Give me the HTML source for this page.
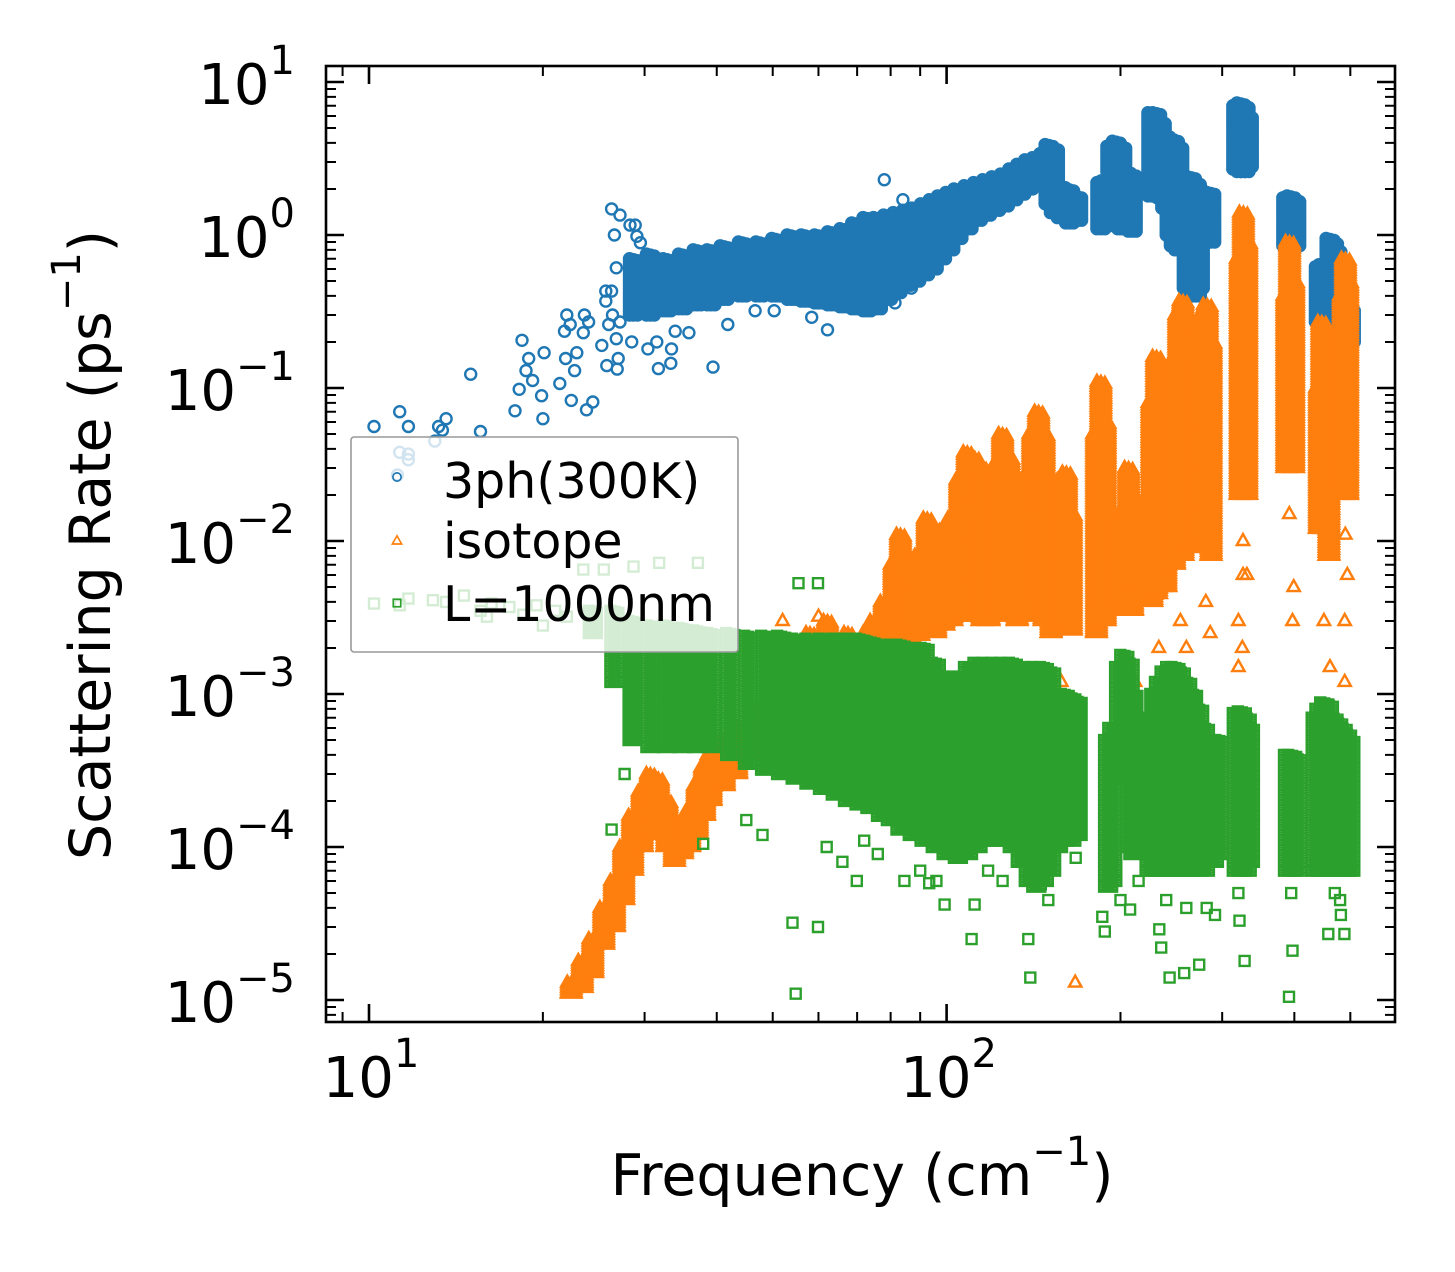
<!DOCTYPE html>
<html><head><meta charset="utf-8"><style>
html,body{margin:0;padding:0;background:#fff;}
svg{display:block;font-family:"DejaVu Sans","Liberation Sans",sans-serif;}
</style></head><body>
<svg id="chart" width="1455" height="1272" viewBox="0 0 1455 1272" xmlns="http://www.w3.org/2000/svg">
<defs><clipPath id="plotclip"><rect x="326" y="66" width="1069" height="956"/></clipPath></defs>
<rect x="0" y="0" width="1455" height="1272" fill="#fff"/>
<g id="marks" clip-path="url(#plotclip)"></g>
<g id="legend"></g>
<g id="axes"></g>
<text x="862" y="1195" font-size="57" text-anchor="middle">Frequency (cm<tspan font-size="40" dy="-30">−1</tspan><tspan dy="30">)</tspan></text>
<text transform="translate(110,545) rotate(-90)" font-size="57" text-anchor="middle">Scattering Rate (ps<tspan font-size="40" dy="-30">−1</tspan><tspan dy="30">)</tspan></text>
</svg>
<script>
// ---- data: [frequency cm^-1, low rate, high rate] for dense columns ----
const blueBands = [[28.7,.3,.7],[30.7,.3,.75],[32.8,.32,.7],[34.9,.33,.75],[37,.35,.8],[39.1,.35,.8],[41.2,.38,.85],[44.3,.4,.9],[47.5,.4,.9],[50.6,.4,.95],[53.8,.38,1],[56.9,.37,1],[60,.36,1],[63.2,.35,1.05],[66.4,.34,1.1],[69.6,.33,1.2],[72.8,.32,1.3],[75.9,.33,1.3],[79,.38,1.35],[82.1,.42,1.4],[85.3,.47,1.45],[88.4,.5,1.5],[91.6,.55,1.6],[94.8,.6,1.7],[98,.7,1.8],[101.3,.8,1.9],[104.6,.95,2],[108.9,1.1,2.1],[113.1,1.25,2.2],[117.3,1.35,2.3],[121.6,1.45,2.4],[125.9,1.55,2.5],[130.2,1.7,2.7],[134.4,1.85,2.9],[138.8,2,3.1],[143,2.1,3.2],[147.3,2.2,3.4],[150.5,1.6,3.9],[153.7,1.4,3.7],[158,1.3,2.1],[163.3,1.2,2],[168.6,1.25,1.8],[185,1.1,2.2],[188.2,1.15,2.26],[192.5,2.6,3.8],[196.7,2.5,4.1],[201,1.1,3.8],[205.3,1.1,2.6],[209.6,1.06,2.5],[226.7,1.8,6.3],[231,1.8,6.3],[235.3,1.75,5.5],[239.6,1.5,4.5],[243.8,1,4.3],[248,.85,4.2],[252.3,.8,3.8],[261,.45,2.4],[265.3,.4,2.4],[270.6,.4,2.2],[273.8,.45,2],[280.2,.95,1.9],[286.6,.9,1.9],[318,2.7,7],[323.3,2.6,7.3],[328.6,2.6,7],[332.9,2.8,6],[388.2,.85,1.75],[392.5,.4,1.0],[394.7,.82,1.8],[402.2,.85,1.7],[442,.27,.62],[448.3,.25,.64],[454.8,.26,.6],[461.2,.3,.95],[467.6,.32,.9],[474,.34,.8],[486,.2,.34],[492.5,.19,.35],[500,.2,.33]];
const bluePoints = [[10.2,.056],[11.3,.07],[11.7,.056],[13.2,.056],[13.6,.063],[13.4,.053],[15,.123],[15.6,.052],[13,.045],[11.3,.038],[11.7,.037],[11.7,.034],[11.2,.027],[18.4,.205],[17.9,.071],[18.2,.098],[18.9,.156],[18.7,.13],[19.2,.112],[19.9,.089],[20,.063],[20.1,.17],[22,.3],[22.3,.26],[21.8,.235],[23.6,.3],[24,.27],[23.5,.23],[22.9,.17],[21.9,.156],[22.7,.13],[21.4,.107],[22.4,.083],[24.4,.081],[23.8,.072],[25.3,.19],[25.8,.14],[27,.156],[26.9,.133],[25.7,.43],[26.3,.43],[25.7,.37],[26.3,1.48],[26.6,1.0],[27.2,1.35],[28.3,1.16],[28.9,1.16],[29.1,.98],[29.5,.89],[26.8,.61],[26.4,.3],[26,.26],[27.2,.27],[26.8,.21],[28.5,.2],[30.4,.18],[31.7,.134],[33.3,.145],[33.4,.18],[31.5,.2],[33.9,.235],[35.8,.23],[39.4,.137],[41.8,.26],[46.6,.32],[50.3,.32],[58.4,.29],[62.2,.24],[81.4,.36],[86.9,.45],[84,1.7],[78,2.3],[106,1.0],[160,1.3]];
const orangeBands = [[22.4,1.1e-5,1.3e-5],[23.4,1.2e-5,1.8e-5],[24.4,1.5e-5,2.5e-5],[25.5,2.3e-5,4e-5],[26.6,3e-5,6e-5],[27.6,4.5e-5,1e-4],[28.6,7e-5,1.6e-4],[29.7,1e-4,2.3e-4],[30.7,1.3e-4,3e-4],[31.7,1.2e-4,2.8e-4],[32.8,1e-4,2e-4],[33.8,8e-5,1.4e-4],[34.9,9e-5,1.3e-4],[35.9,1e-4,1.7e-4],[37,1.2e-4,2.5e-4],[38.1,1.6e-4,3.3e-4],[39.1,2e-4,4e-4],[41.2,2.5e-4,5e-4],[43.3,3e-4,6e-4],[46.4,4e-4,8e-4],[49.6,5e-4,1.2e-3],[53.8,6e-4,1.8e-3],[58,7e-4,2.5e-3],[62.2,8e-4,3e-3],[67.5,9e-4,2.5e-3],[72.8,1e-3,2.5e-3],[74.9,1.6e-3,3e-3],[78,1.8e-3,4e-3],[81.1,2e-3,7e-3],[83.2,2.3e-3,1.1e-2],[86.3,2.2e-3,7e-3],[89.5,2.4e-3,8e-3],[92.6,2.6e-3,1.4e-2],[95.7,2.5e-3,1.2e-2],[98.9,2.8e-3,9e-3],[102.1,3e-3,1.4e-2],[105.4,3.2e-3,2.5e-2],[108.6,3.4e-3,3.8e-2],[111.9,3.2e-3,3.5e-2],[115.2,3e-3,3e-2],[118.4,3e-3,2e-2],[121.6,3.5e-3,3e-2],[125,3.5e-3,5e-2],[128.2,3.2e-3,3.5e-2],[132.5,3e-3,2e-2],[136.8,3.2e-3,2.5e-2],[141,3.5e-3,5e-2],[144.3,3.5e-3,7e-2],[147.5,3e-3,5e-2],[151.7,2.5e-3,2e-2],[158,3e-3,2.5e-2],[161.2,2.8e-3,2.8e-2],[164.4,2.6e-3,1.5e-2],[181.8,2.5e-3,5e-2],[185,3e-3,1.1e-1],[188.2,3e-3,6e-2],[201.3,3.5e-3,1.5e-2],[206.6,3.5e-3,3e-2],[209.8,3.5e-3,2e-2],[226.7,4e-3,8e-2],[231,4.5e-3,1.6e-1],[235.3,5e-3,1e-1],[239.6,5e-3,5e-2],[248,7e-3,1.5e-1],[252.3,8e-3,3e-1],[256.6,8e-3,3.7e-1],[261,1e-2,2e-1],[274,9e-3,1.5e-1],[278.3,1e-2,3e-1],[282.6,1e-2,3.5e-1],[287,8e-3,2e-1],[322.3,2e-2,7e-1],[326.5,2.5e-2,1.4],[330.8,2e-2,9e-1],[388.2,3e-2,4e-1],[392.5,3.5e-2,9e-1],[399,3e-2,5e-1],[442,1.2e-2,1e-1],[446.2,1.5e-2,2.7e-1],[450.5,1.2e-2,2e-1],[459,8e-3,8e-2],[486,2e-2,4e-1],[490.5,2.5e-2,7e-1],[494.7,2e-2,5e-1]];
const orangePoints = [[286,2.5e-3],[281,4e-3],[254,3e-3],[260,2e-3],[320,3e-3],[325,2e-3],[320,1.5e-3],[331,6e-3],[397,3e-3],[399,5e-3],[450,3e-3],[461,1.5e-3],[489,1.2e-3],[489,3e-3],[167,1.3e-5],[212,1.2e-3],[201,1.5e-3],[233,2e-3],[244,1e-3],[158,1.2e-3],[208,5.5e-3],[52,3e-3],[60,3.2e-3],[326,1e-2],[326,6e-3],[392,1.5e-2],[490,1.1e-2],[494,6e-3]];
const greenBands = [[24.4,2.5e-3,3.5e-3],[26.6,1.2e-3,3.5e-3],[28.6,5e-4,3e-3],[30.7,4.5e-4,2.8e-3],[32.8,4.5e-4,2.8e-3],[34.9,4.5e-4,2.7e-3],[37,4.5e-4,2.6e-3],[39.1,4.5e-4,2.5e-3],[42.2,4e-4,2.5e-3],[45.3,3.5e-4,2.4e-3],[48.5,3.2e-4,2.4e-3],[51.7,3e-4,2.4e-3],[54.8,2.8e-4,2.3e-3],[57.9,2.6e-4,2.3e-3],[61.1,2.4e-4,2.3e-3],[64.3,2.2e-4,2.3e-3],[67.5,2e-4,2.3e-3],[70.7,1.9e-4,2.3e-3],[73.8,1.8e-4,2.2e-3],[77,1.6e-4,2.1e-3],[80.1,1.5e-4,2.1e-3],[83.2,1.3e-4,2.1e-3],[87.4,1.2e-4,2e-3],[91.6,1.1e-4,2e-3],[95.8,1e-4,1.6e-3],[100,9e-5,1.3e-3],[104.6,8.5e-5,1.3e-3],[108.9,9e-5,1.5e-3],[113.1,1e-4,1.6e-3],[117.3,1.1e-4,1.6e-3],[121.6,1.1e-4,1.6e-3],[125.9,1.1e-4,1.6e-3],[130.2,1e-4,1.6e-3],[134.4,8e-5,1.5e-3],[138.8,6e-5,1.5e-3],[143,5.5e-5,1.5e-3],[147.3,6e-5,1.5e-3],[151.7,7e-5,1.4e-3],[155.9,1e-4,1e-3],[160.1,1.1e-4,1e-3],[164.4,1.1e-4,9.5e-4],[168.6,1.2e-4,9e-4],[190.4,5.5e-5,5e-4],[193.6,6e-5,6e-4],[198.9,3e-4,1.5e-3],[203.1,2.8e-4,1.8e-3],[207.4,1e-4,1.6e-3],[210.6,9e-5,1e-3],[224.6,7e-5,7e-4],[228.9,7e-5,1e-3],[233.2,7e-5,1.2e-3],[238.5,7e-5,1.4e-3],[243.8,7e-5,1.5e-3],[249,7e-5,1.5e-3],[254.4,7e-5,1.4e-3],[260.8,7e-5,1.2e-3],[267.1,7e-5,1e-3],[273.6,7e-5,8e-4],[280,7e-5,6e-4],[290.3,8e-5,5e-4],[296.6,9e-5,5e-4],[318,7e-5,7.5e-4],[324.4,7e-5,7.7e-4],[330.8,7e-5,7e-4],[335,8e-5,6e-4],[390,7e-5,4e-4],[396.5,7e-5,4e-4],[405,7e-5,3.8e-4],[435.5,7e-5,7e-4],[442,7e-5,8e-4],[450.5,7e-5,8.8e-4],[459,7e-5,8.5e-4],[467.6,7e-5,7e-4],[476.3,7e-5,6.5e-4],[484.9,7e-5,6e-4],[493.5,7e-5,5.5e-4],[500,7e-5,5e-4]];
const greenPoints = [[10.2,3.9e-3],[11.3,3.8e-3],[11.7,4.2e-3],[12.9,4.1e-3],[14.6,4.4e-3],[16.3,3.9e-3],[17.5,3.7e-3],[19.5,3.8e-3],[13.6,4e-3],[15.6,3.5e-3],[18.5,3.3e-3],[21,3.5e-3],[22,3.2e-3],[20,2.8e-3],[16,3.2e-3],[23.5,6.5e-3],[25.5,6.5e-3],[28.7,6.8e-3],[31.8,7.2e-3],[37.1,7.2e-3],[55.4,5.3e-3],[59.9,5.3e-3],[26.3,1.3e-4],[27.7,3e-4],[37.9,1.05e-4],[54.1,3.2e-5],[59.9,3e-5],[54.8,1.1e-5],[69.9,6e-5],[84.5,6e-5],[93.3,5.8e-5],[99.2,4.2e-5],[110.5,2.5e-5],[111.8,4.2e-5],[138.5,2.5e-5],[167.3,8.5e-5],[139.6,1.4e-5],[145.6,5.7e-5],[187.9,2.8e-5],[207.8,3.9e-5],[233.5,2.9e-5],[235.3,2.2e-5],[243.3,1.4e-5],[257.8,1.5e-5],[273.7,1.7e-5],[291.5,3.6e-5],[321.5,3.3e-5],[328,1.8e-5],[397,2.1e-5],[391.5,1.05e-5],[458,2.7e-5],[481.6,3.6e-5],[488.3,2.7e-5],[45,1.5e-4],[48,1.2e-4],[62,1e-4],[66,8e-5],[72,1.1e-4],[76,9e-5],[90,7e-5],[96,6e-5],[118,7e-5],[125,6e-5],[150,4.5e-5],[186,3.5e-5],[200,4.5e-5],[215,6e-5],[240,4.5e-5],[260,4e-5],[282,4e-5],[320,5e-5],[395,5e-5],[470,5e-5],[480,4.5e-5]];
const xTickValues = [10, 100];
const xTickExps = ["1", "2"];
const yTickExps = [1, 0, -1, -2, -3, -4, -5];
const legendLabels = ["3ph(300K)", "isotope", "L=1000nm"];

const NS = "http://www.w3.org/2000/svg";
const L = 326, R = 1395, T = 66, B = 1022;
function X(f){ return 369 + 577.6 * (Math.log10(f) - 1); }
function Y(v){ return 235 - 153 * Math.log10(v); }
function mk(tag, attrs, parent){ const e = document.createElementNS(NS, tag); for (const k in attrs) e.setAttribute(k, attrs[k]); parent.appendChild(e); return e; }

function circ(x,y){ return `M${(x-5.5).toFixed(1)},${y.toFixed(1)}a5.5,5.5 0 1,0 11,0a5.5,5.5 0 1,0 -11,0`; }
function tri(x,y){ return `M${x.toFixed(1)},${(y-7).toFixed(1)}l6.2,11h-12.4z`; }
function sq(x,y){ return `M${(x-5).toFixed(1)},${(y-5).toFixed(1)}h10v10h-10z`; }

const marks = document.getElementById('marks');
const series = [
  {name:'3ph', bands:blueBands, pts:bluePoints, shape:circ, color:'#1f77b4'},
  {name:'isotope', bands:orangeBands, pts:orangePoints, shape:tri, color:'#ff7f0e'},
  {name:'boundary', bands:greenBands, pts:greenPoints, shape:sq, color:'#2ca02c'}
];
const subOffsets = [-4, 0, 4];
series.forEach(s => {
  const g = mk('g', {fill:'none', stroke:s.color, 'stroke-width':2.4, 'stroke-linejoin':'miter'}, marks);
  
  
  s.bands.forEach(b => {
    const x = X(b[0]), y1 = Y(b[2]), y2 = Y(b[1]);
    let d = '';
    subOffsets.forEach((ox, k) => {
      for (let y = y1 + k; y <= y2 + 0.01; y += 2.5) d += s.shape(x + ox, y);
      d += s.shape(x + ox, y2);
    });
    const p = mk('path', {d:d}, g);
    
    
  });
  s.pts.forEach(pt => {
    const p = mk('path', {d:s.shape(X(pt[0]), Y(pt[1]))}, g);
    
    
  });
});

// legend
const lg = document.getElementById('legend');
const lbox = mk('rect', {x:351, y:437, width:387, height:215, rx:3, fill:'#fff', 'fill-opacity':0.8, stroke:'#999', 'stroke-width':1.6}, lg);


const legY = [477, 541, 603], legBase = [498, 558, 621];
series.forEach((s, i) => {
  const sm = mk('path', {d:s.shape(397, legY[i]), fill:'none', stroke:s.color, 'stroke-width':2.2, transform:`translate(${397*0.25},${legY[i]*0.25}) scale(0.75)`}, lg);
  
  
  const t = mk('text', {x:443, y:legBase[i], 'font-size':49}, lg);
  t.textContent = legendLabels[i];
  
  
});

// axes
const ax = document.getElementById('axes');
const frame = mk('rect', {x:L, y:T, width:R-L, height:B-T, fill:'none', stroke:'#000', 'stroke-width':2.6}, ax);


let dMaj = '', dMin = '';
for (let dec = 0; dec <= 2; dec++) {
  for (let m = 1; m <= 9; m++) {
    const f = m * Math.pow(10, dec), x = X(f);
    if (x < L || x > R) continue;
    if (m === 1) dMaj += `M${x},${B}v-18M${x},${T}v18`;
    else dMin += `M${x},${B}v-10M${x},${T}v10`;
  }
}
for (let e = -6; e <= 1; e++) {
  for (let m = 1; m <= 9; m++) {
    const y = Y(m * Math.pow(10, e));
    if (y < T || y > B) continue;
    if (m === 1) dMaj += `M${L},${y}h18M${R},${y}h-18`;
    else dMin += `M${L},${y}h10M${R},${y}h-10`;
  }
}
const tmaj = mk('path', {d:dMaj, stroke:'#000', 'stroke-width':2.6}, ax);


const tmin = mk('path', {d:dMin, stroke:'#000', 'stroke-width':2}, ax);



xTickValues.forEach((v, i) => {
  const t = mk('text', {x:X(v) + 2, y:1097, 'font-size':56, 'text-anchor':'middle'}, ax);
  t.innerHTML = `10<tspan font-size="40" dy="-30">${xTickExps[i]}</tspan>`;
  
  
});
yTickExps.forEach(e => {
  const t = mk('text', {x:295, y:Y(Math.pow(10, e)) + 22, 'font-size':56, 'text-anchor':'end'}, ax);
  t.innerHTML = `10<tspan font-size="40" dy="-30">${e < 0 ? '−' + (-e) : e}</tspan>`;
  
  
});
</script>
</body></html>
